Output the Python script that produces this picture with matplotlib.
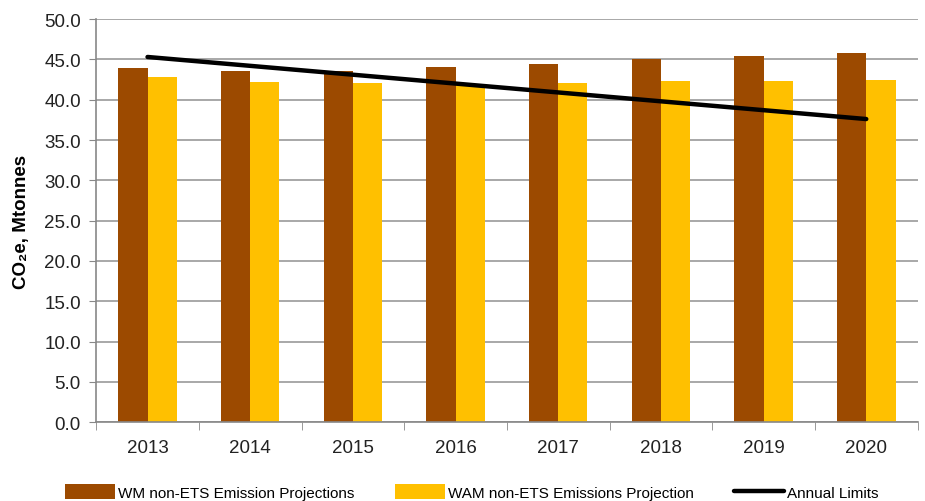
import matplotlib.pyplot as plt
import numpy as np

years = ['2013', '2014', '2015', '2016', '2017', '2018', '2019', '2020']
wm = [43.9, 43.5, 43.6, 44.0, 44.4, 45.0, 45.4, 45.8]
wam = [42.8, 42.2, 42.1, 41.9, 42.1, 42.3, 42.3, 42.4]
limits = [45.3, 44.2, 43.1, 42.0, 40.9, 39.8, 38.7, 37.6]

plt.rcParams['font.family'] = ['Liberation Sans', 'DejaVu Sans']

fig = plt.figure(figsize=(9.25, 5.02), dpi=100)
ax = fig.add_axes([0.104, 0.157, 0.888, 0.803])

x = np.arange(len(years))
w = 0.285
b1 = ax.bar(x - w / 2, wm, w, color='#9c4a00', label='WM non-ETS Emission Projections', zorder=2)
b2 = ax.bar(x + w / 2, wam, w, color='#ffc000', label='WAM non-ETS Emissions Projection', zorder=2)
l1, = ax.plot(x, limits, color='black', lw=3.2, solid_capstyle='round', label='Annual Limits', zorder=3)

ax.set_xlim(-0.5, len(years) - 0.5)
ax.set_ylim(0, 50)
ax.set_yticks(np.arange(0, 50.1, 5))
ax.set_yticklabels([f'{v:.1f}' for v in np.arange(0, 50.1, 5)])
ax.set_xticks(x)
ax.set_xticklabels(years)
ax.set_xticks(np.arange(-0.5, len(years)), minor=True)
ax.tick_params(axis='x', which='major', length=0, pad=12, labelsize=13.5, colors='#222222')
ax.tick_params(axis='x', which='minor', length=6, color='#888888')
ax.tick_params(axis='y', length=5, pad=6, color='#888888', labelsize=13.5, labelcolor='#222222')
ax.grid(axis='y', color='#999999', lw=1.2, zorder=0)
for s in ['top', 'right']:
    ax.spines[s].set_visible(False)
ax.spines['left'].set_color('#888888')
ax.spines['bottom'].set_color('#888888')
ax.spines['left'].set_linewidth(1.2)
ax.spines['bottom'].set_linewidth(1.2)

ax.set_ylabel('CO₂e, Mtonnes', fontsize=13.5, fontweight='bold', labelpad=10)

fig.legend(handles=[b1, b2, l1], loc='lower center', bbox_to_anchor=(0.51, -0.025), ncol=3,
           frameon=False, fontsize=11, handlelength=3.3, handleheight=1.1,
           columnspacing=2.6, handletextpad=0.2)

plt.savefig('out.png', dpi=100)
